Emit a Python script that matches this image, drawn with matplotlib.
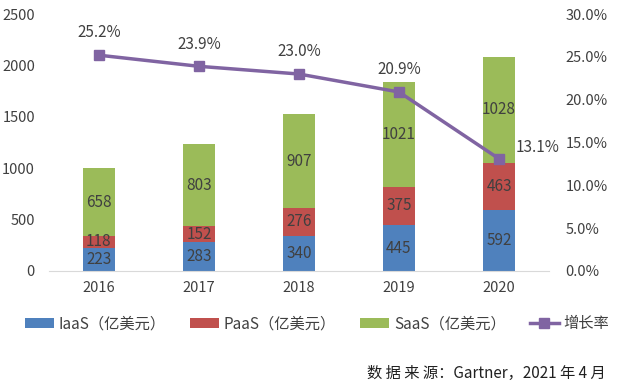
import matplotlib.pyplot as plt
import numpy as np

plt.rcParams['font.family'] = ['Noto Sans CJK SC', 'DejaVu Sans']

years = ['2016', '2017', '2018', '2019', '2020']
iaas = [223, 283, 340, 445, 592]
paas = [118, 152, 276, 375, 463]
saas = [658, 803, 907, 1021, 1028]
growth = [25.2, 23.9, 23.0, 20.9, 13.1]

blue = '#4F81BD'
red = '#C0504D'
green = '#9BBB59'
purple = '#8064A2'
txt = '#404040'

x = np.arange(len(years))
iaas = np.array(iaas)
paas = np.array(paas)
saas = np.array(saas)

fig = plt.figure(figsize=(6.34, 3.91), dpi=100)
ax = fig.add_axes([0.077, 0.307, 0.789, 0.657])
w = 0.32
b1 = ax.bar(x, iaas, w, color=blue, label='IaaS（亿美元）')
b2 = ax.bar(x, paas, w, bottom=iaas, color=red, label='PaaS（亿美元）')
b3 = ax.bar(x, saas, w, bottom=iaas + paas, color=green, label='SaaS（亿美元）')

for vals, base in [(iaas, np.zeros(5)), (paas, iaas), (saas, iaas + paas)]:
    for i, v in enumerate(vals):
        ax.text(x[i], base[i] + v / 2, str(v), ha='center', va='center',
                fontsize=11, color=txt)

ax.set_xlim(-0.5, 4.5)
ax.set_ylim(0, 2500)
ax.set_yticks(range(0, 2501, 500))
ax.set_xticks(x)
ax.set_xticklabels(years)
for s in ['top', 'right', 'left']:
    ax.spines[s].set_visible(False)
ax.spines['bottom'].set_color('#D9D9D9')
ax.tick_params(length=0, labelsize=10.5, colors=txt)
ax.tick_params(axis='x', pad=7)
ax.tick_params(axis='y', pad=10)

ax2 = ax.twinx()
ln, = ax2.plot(x, growth, color=purple, lw=2.5, marker='s', ms=7, label='增长率')
ax2.set_ylim(0, 30)
ax2.set_yticks(range(0, 31, 5))
ax2.set_yticklabels([f'{v:.1f}%' for v in range(0, 31, 5)])
for s in ['top', 'right', 'left', 'bottom']:
    ax2.spines[s].set_visible(False)
ax2.tick_params(length=0, labelsize=10.5, colors=txt, pad=12)

for i, g in enumerate(growth):
    if i == len(growth) - 1:
        ax2.text(x[i] + 0.17, g + 0.3, f'{g:.1f}%', ha='left', va='bottom',
                 fontsize=11, color=txt)
    else:
        ax2.text(x[i], g + 1.6, f'{g:.1f}%', ha='center', va='bottom',
                 fontsize=11, color=txt)

fig.legend(handles=[b1, b2, b3, ln], loc='center', bbox_to_anchor=(0.5, 0.172),
           ncol=4, frameon=False, fontsize=11, handlelength=1.9,
           columnspacing=1.6, handletextpad=0.3, labelcolor=txt)

fig.text(0.955, 0.045, '数 据 来 源：Gartner，2021 年 4 月', ha='right', va='center',
         fontsize=11, color='#202020')

fig.savefig('out.png', dpi=100)
